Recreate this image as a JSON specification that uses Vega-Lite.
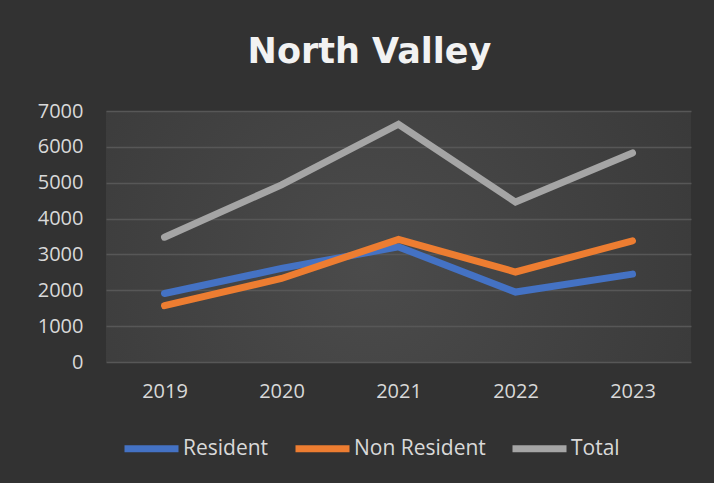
{
  "$schema": "https://vega.github.io/schema/vega-lite/v6.json",
  "autosize": {"type": "none"},
  "width": 585,
  "height": 251,
  "padding": {"left": 106, "top": 111, "right": 23, "bottom": 121},
  "background": "#323232",
  "title": {
    "text": "North Valley",
    "font": "DejaVu Sans",
    "fontSize": 35,
    "fontWeight": "bold",
    "color": "#f2f2f2",
    "anchor": "middle",
    "frame": "group",
    "baseline": "alphabetic",
    "dx": -29,
    "offset": 3
  },
  "config": {
    "view": {
      "stroke": null,
      "fill": {
        "gradient": "radial",
        "x1": 0.45, "y1": 0.55, "r1": 0,
        "x2": 0.45, "y2": 0.55, "r2": 0.75,
        "stops": [
          {"offset": 0, "color": "#4b4b4b"},
          {"offset": 1, "color": "#363636"}
        ]
      }
    },
    "font": "Open Sans"
  },
  "data": {
    "values": [
      {"year": "2019", "series": "Resident", "value": 1910},
      {"year": "2020", "series": "Resident", "value": 2610},
      {"year": "2021", "series": "Resident", "value": 3210},
      {"year": "2022", "series": "Resident", "value": 1950},
      {"year": "2023", "series": "Resident", "value": 2450},
      {"year": "2019", "series": "Non Resident", "value": 1570},
      {"year": "2020", "series": "Non Resident", "value": 2330},
      {"year": "2021", "series": "Non Resident", "value": 3420},
      {"year": "2022", "series": "Non Resident", "value": 2510},
      {"year": "2023", "series": "Non Resident", "value": 3380},
      {"year": "2019", "series": "Total", "value": 3480},
      {"year": "2020", "series": "Total", "value": 4940},
      {"year": "2021", "series": "Total", "value": 6630},
      {"year": "2022", "series": "Total", "value": 4460},
      {"year": "2023", "series": "Total", "value": 5830}
    ]
  },
  "mark": {"type": "line", "strokeWidth": 7, "strokeCap": "round", "strokeJoin": "miter"},
  "encoding": {
    "x": {
      "field": "year",
      "type": "ordinal",
      "scale": {"type": "point", "padding": 0.5},
      "axis": {
        "title": null,
        "labelAngle": 0,
        "domain": false,
        "ticks": false,
        "tickSize": 0,
        "grid": false,
        "labelFontSize": 20,
        "labelColor": "#d9d9d9",
        "labelPadding": 19
      }
    },
    "y": {
      "field": "value",
      "type": "quantitative",
      "scale": {"domain": [0, 7000], "nice": false},
      "axis": {
        "title": null,
        "values": [0, 1000, 2000, 3000, 4000, 5000, 6000, 7000],
        "format": "d",
        "domain": false,
        "ticks": false,
        "tickSize": 0,
        "grid": true,
        "gridColor": "#575757",
        "gridWidth": 1.5,
        "labelFontSize": 20,
        "labelColor": "#d9d9d9",
        "labelPadding": 23
      }
    },
    "color": {
      "field": "series",
      "type": "nominal",
      "scale": {
        "domain": ["Resident", "Non Resident", "Total"],
        "range": ["#4472C4", "#ED7D31", "#A5A5A5"]
      },
      "legend": {
        "title": null,
        "orient": "none",
        "direction": "horizontal",
        "legendX": 15,
        "legendY": 307,
        "padding": 0,
        "symbolType": "stroke",
        "symbolSize": 2916,
        "symbolStrokeWidth": 7,
        "labelFontSize": 21,
        "labelColor": "#d9d9d9",
        "labelOffset": 1,
        "columnPadding": 12
      }
    }
  }
}
